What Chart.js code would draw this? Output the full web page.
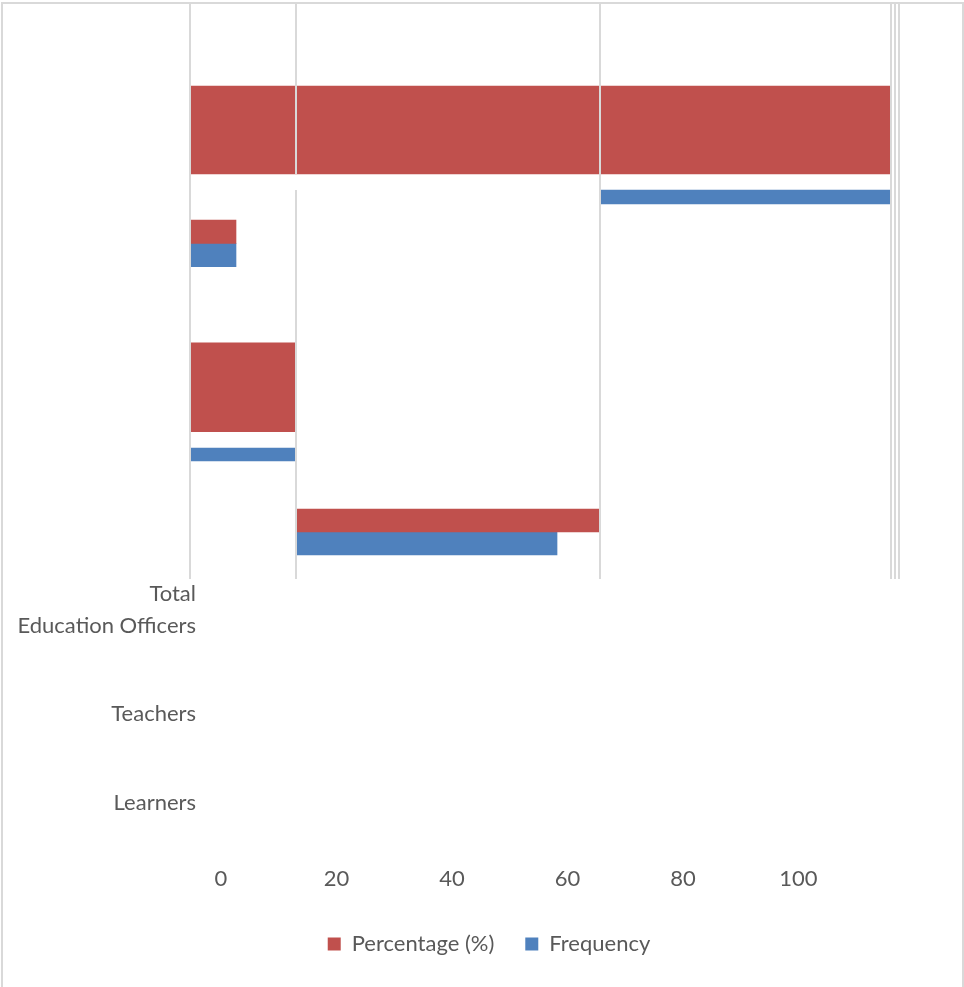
<!DOCTYPE html>
<html>
<head>
<meta charset="utf-8">
<title>Percentage and frequency by respondent group</title>
<style>
  html, body { margin: 0; padding: 0; background: #ffffff; }
  body { width: 964px; height: 987px; position: relative; overflow: hidden; }
  .frame {
    position: absolute; left: 1px; top: 2px; width: 959px; height: 990px;
    border: 2px solid #d9d9d9; border-bottom: none;
  }
  #chart { position: absolute; left: 0; top: 0; }
</style>
<script src="https://cdn.jsdelivr.net/npm/chart.js@4.4.1/dist/chart.umd.min.js"></script>
</head>
<body>
<div class="frame"></div>
<canvas id="chart" width="964" height="987"></canvas>
<script>
// ---- data -------------------------------------------------------------
const categories = ['Total', 'Education Officers', 'Teachers', 'Learners'];
const seriesNames = ['Percentage (%)', 'Frequency'];

// horizontal extent [start, end] of every bar on the bar axis
const percentageSpans = [[0, 100], [0, 6.57], [0, 15], [15.29, 58.43]];
const frequencySpans = [[58.57, 100], [0, 6.57], [0, 15], [15.29, 52.43]];

// labelled value axis
const valueTicks = [0, 20, 40, 60, 80, 100];

// row positions of the category captions on the vertical axis
const categoryTickRows = [6.632, 7, 8, 9];

// ---- layout ----------------------------------------------------------
// centre row of each bar on the vertical axis, and its thickness in px
const percentageRows = [1.380, 2.532, 4.295, 5.805];
const frequencyRows = [2.139, 2.796, 5.057, 6.065];
const percentageThickness = [88, 23.3, 88.7, 23];
const frequencyThickness = [14, 23.3, 13, 23];

// vertical grid lines of the bar axis, with the row spans they cover
const gridTop = -0.048, gridBottom = 6.468;
const gridLines = [
  { at: 0, spans: [[gridTop, gridBottom]] },
  { at: 15.14, spans: [[gridTop, 1.878], [2.060, gridBottom]] },
  { at: 58.57, spans: [[gridTop, gridBottom]] },
  { at: 100.14, spans: [[gridTop, gridBottom]] },
  { at: 100.71, spans: [[gridTop, gridBottom]] },
  { at: 101.29, spans: [[gridTop, gridBottom]] }
];

const RED = '#c0504d';
const BLUE = '#4f81bd';
const TEXT = '#595959';
const GRID = '#d9d9d9';
const FONT_SIZE = 22;

// ---- datasets: one bar per dataset so each can carry its own thickness -----
function seriesDatasets(name, spans, rows, thickness, color) {
  return spans.map((span, i) => ({
    label: name,
    data: [{ x: span, y: rows[i] }],
    backgroundColor: color,
    borderWidth: 0,
    barThickness: thickness[i],
    grouped: false,
    xAxisID: 'xb',
    yAxisID: 'y',
    clip: false
  }));
}

const datasets = [
  ...seriesDatasets(seriesNames[0], percentageSpans, percentageRows, percentageThickness, RED),
  ...seriesDatasets(seriesNames[1], frequencySpans, frequencyRows, frequencyThickness, BLUE)
];

// grid lines painted over the bars, limited to the bar block
const barGrid = {
  id: 'barGrid',
  afterDatasetsDraw(chart) {
    const { ctx } = chart;
    const xs = chart.scales.xb;
    const ys = chart.scales.y;
    ctx.save();
    ctx.strokeStyle = GRID;
    ctx.lineWidth = 2;
    gridLines.forEach(g => {
      const px = Math.round(xs.getPixelForValue(g.at));
      g.spans.forEach(([a, b]) => {
        ctx.beginPath();
        ctx.moveTo(px, ys.getPixelForValue(a));
        ctx.lineTo(px, ys.getPixelForValue(b));
        ctx.stroke();
      });
    });
    ctx.restore();
  }
};

function draw() {
  Chart.defaults.font.family = 'Lato';
  Chart.defaults.font.size = FONT_SIZE;
  Chart.defaults.color = TEXT;

  new Chart(document.getElementById('chart'), {
    type: 'bar',
    data: { datasets },
    plugins: [barGrid],
    options: {
      responsive: false,
      animation: false,
      devicePixelRatio: 1,
      indexAxis: 'y',
      grouped: false,
      layout: { padding: { top: 4, left: 14, right: 0, bottom: 22 } },
      scales: {
        xb: {
          type: 'linear', axis: 'x', position: 'bottom', display: false,
          offset: false, min: 1, max: 110.57
        },
        x: {
          type: 'linear', position: 'bottom', offset: false,
          min: -4.156, max: 128.66,
          grid: { display: false, drawTicks: false },
          border: { display: false },
          ticks: { padding: 18, color: TEXT, autoSkip: false, maxRotation: 0 },
          afterBuildTicks: s => { s.ticks = valueTicks.map(v => ({ value: v })); },
          afterFit: s => { s.height = 54; s.paddingLeft = 0; s.paddingRight = 0; }
        },
        y: {
          type: 'linear', position: 'left', reverse: true, offset: false,
          min: -0.048, max: 9.516,
          grid: { display: false, drawTicks: false },
          border: { display: false },
          ticks: {
            padding: 1, color: TEXT, autoSkip: false,
            callback: (v, i) => categories[i]
          },
          afterBuildTicks: s => { s.ticks = categoryTickRows.map(v => ({ value: v })); },
          afterFit: s => { s.width = 183; s.paddingTop = 0; s.paddingBottom = 0; }
        }
      },
      plugins: {
        legend: {
          position: 'bottom',
          align: 'center',
          labels: {
            boxWidth: 13,
            boxHeight: 13,
            padding: 31,
            color: TEXT,
            font: { size: FONT_SIZE },
            filter: (item, data) =>
              data.datasets.findIndex(d => d.label === item.text) === item.datasetIndex
          }
        },
        tooltip: { enabled: false }
      }
    }
  });
}

if (document.fonts && document.fonts.load) {
  document.fonts.load(FONT_SIZE + 'px Lato').then(draw, draw);
} else {
  draw();
}
</script>
</body>
</html>
